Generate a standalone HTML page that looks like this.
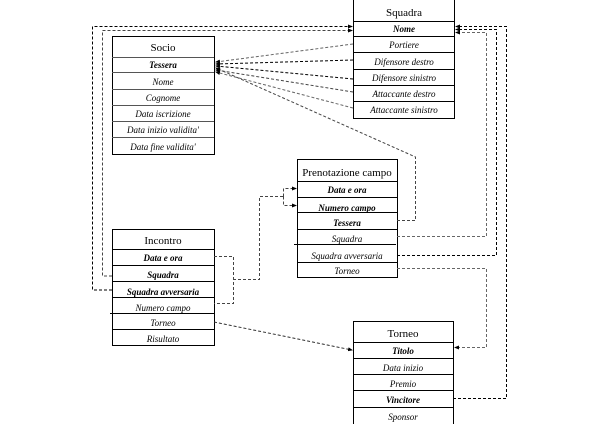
<!DOCTYPE html><html><head><style>
body{margin:0;background:#fff}
svg text{font-family:"Liberation Serif",serif;font-size:9px;text-anchor:middle;font-style:italic}
.t{font-style:normal;font-size:11px}
.b{font-weight:bold}
</style></head><body>
<svg width="600" height="424" viewBox="0 0 600 424" xmlns="http://www.w3.org/2000/svg">
<defs><marker id="a" markerWidth="5" markerHeight="4" refX="4" refY="2" orient="auto" markerUnits="userSpaceOnUse"><path d="M0,0L5,2L0,4z" fill="#000"/></marker></defs>
<g fill="none" stroke="#000" stroke-width="1">
<rect x="112.5" y="36.5" width="102" height="118"/>
<path d="M112 57.5H214M112 72.5H214M112 89.5H214M112 105.5H214M112 121.5H214M112 137.5H214" stroke="#555"/>
<rect x="353.5" y="-5.5" width="101" height="124"/>
<path d="M353 21.5H454M353 36.5H454M353 52.5H454M353 69.5H454M353 85.5H454M353 101.5H454"/>
<rect x="297.5" y="159.5" width="100" height="118"/>
<path d="M297 181.5H397M297 197.5H397M297 212.5H397M297 229.5H397M294 244.5H396M297 262.5H397"/>
<rect x="112.5" y="229.5" width="102" height="116"/>
<path d="M112 249.5H214M112 265.5H214M112 281.5H214M112 297.5H214M110 313.5H214M112 329.5H214"/>
<rect x="353.5" y="321.5" width="100" height="110"/>
<path d="M353 342.5H453M353 358.5H453M353 374.5H453M353 390.5H453M353 407.5H453"/>
</g>
<g fill="none" stroke-width="1" stroke-dasharray="3,2">
<path d="M112 290H92.5V26.5H352" stroke="#000" marker-end="url(#a)"/>
<path d="M112 276H102.5V30.5H352" stroke="#444" marker-end="url(#a)"/>
<path d="M453 398.5H506.5V26.5H456" stroke="#000" marker-end="url(#a)"/>
<path d="M397 255.5H496.5V29.5H456" stroke="#000" marker-end="url(#a)"/>
<path d="M397 236.5H486.5V32.5H456" stroke="#666" marker-end="url(#a)"/>
<path d="M397 268.5H486.5V347.5H455" stroke="#666" marker-end="url(#a)"/>
<path d="M397 220.5H415.5V157L216 68" stroke="#444" marker-end="url(#a)"/>
<path d="M353 44L216 62" stroke="#666" marker-end="url(#a)"/>
<path d="M353 60L216 64" stroke="#000" marker-end="url(#a)"/>
<path d="M353 79L216 66" stroke="#000" marker-end="url(#a)"/>
<path d="M353 92L216 70" stroke="#444" marker-end="url(#a)"/>
<path d="M353 108L216 72" stroke="#666" marker-end="url(#a)"/>
<path d="M214 256.5H233.5V303.5H214M233 279.5H259.5V196.5H283.5" stroke="#444"/>
<path d="M283.5 196.5V188.5H296" stroke="#444" marker-end="url(#a)"/>
<path d="M283.5 196.5V205.5H296" stroke="#444" marker-end="url(#a)"/>
<path d="M214 322L352 350" stroke="#333" marker-end="url(#a)"/>
</g>
<text x="163" y="51" class="t">Socio</text>
<text x="163" y="68" class="b">Tessera</text>
<text x="163" y="85">Nome</text>
<text x="163" y="101">Cognome</text>
<text x="163" y="117">Data iscrizione</text>
<text x="163" y="133">Data inizio validita'</text>
<text x="163" y="150">Data fine validita'</text>
<text x="404" y="16" class="t">Squadra</text>
<text x="404" y="32" class="b">Nome</text>
<text x="404" y="48">Portiere</text>
<text x="404" y="65">Difensore destro</text>
<text x="404" y="81">Difensore sinistro</text>
<text x="404" y="97">Attaccante destro</text>
<text x="404" y="113">Attaccante sinistro</text>
<text x="347" y="176" class="t">Prenotazione campo</text>
<text x="347" y="193" class="b">Data e ora</text>
<text x="347" y="211" class="b">Numero campo</text>
<text x="347" y="226" class="b">Tessera</text>
<text x="347" y="242">Squadra</text>
<text x="347" y="259">Squadra avversaria</text>
<text x="347" y="274">Torneo</text>
<text x="163" y="244" class="t">Incontro</text>
<text x="163" y="261" class="b">Data e ora</text>
<text x="163" y="278" class="b">Squadra</text>
<text x="163" y="295" class="b">Squadra avversaria</text>
<text x="163" y="311">Numero campo</text>
<text x="163" y="326">Torneo</text>
<text x="163" y="342">Risultato</text>
<text x="403" y="337" class="t">Torneo</text>
<text x="403" y="354" class="b">Titolo</text>
<text x="403" y="371">Data inizio</text>
<text x="403" y="387">Premio</text>
<text x="403" y="403" class="b">Vincitore</text>
<text x="403" y="420">Sponsor</text>
</svg>
</body></html>
